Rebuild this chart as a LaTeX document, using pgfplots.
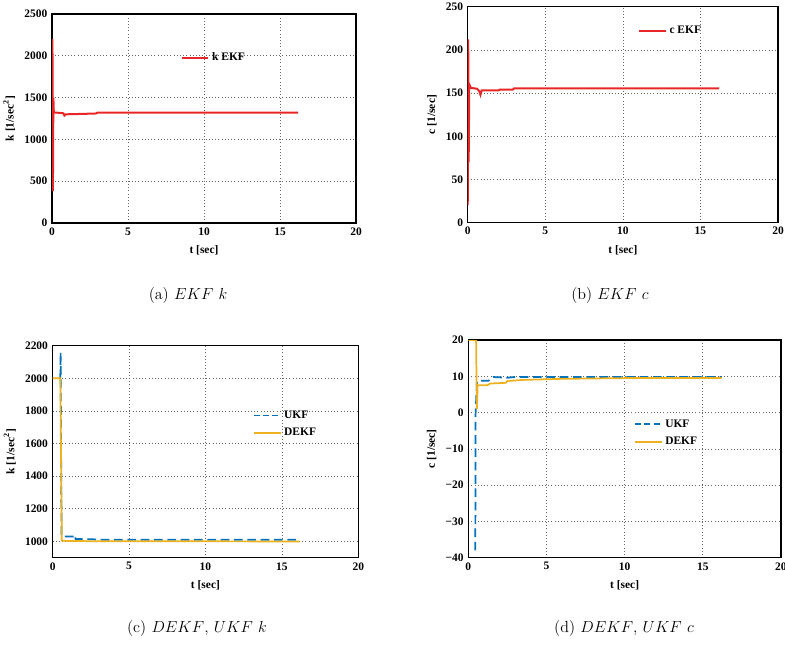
\documentclass[border=0pt]{standalone}
\usepackage{pgfplots}
\pgfplotsset{compat=1.18}
\usepackage{fontspec}
\newfontfamily\tkfont{Liberation Serif}
\definecolor{ekfred}{RGB}{232,38,38}
\definecolor{ukfblue}{RGB}{0,114,189}
\definecolor{dekforange}{RGB}{237,177,32}
\pgfplotsset{myax/.style={
  scale only axis, anchor=south west,
  xmin=0, xmax=20, xtick={0,5,10,15,20},
  grid=major, major grid style={dotted, black!60, line width=0.5pt},
  axis line style={line width=0.9pt},
  tick label style={font=\tkfont\bfseries\fontsize{8.6}{10}\selectfont},
  label style={font=\tkfont\bfseries\fontsize{8.6}{10}\selectfont},
  /pgf/number format/assume math mode=true,
  /pgf/number format/1000 sep={},
  scaled ticks=false,
  major tick length=0pt,
  legend style={draw=none, fill=none, font=\tkfont\bfseries\fontsize{8.6}{10}\selectfont, row sep=2pt},
  legend cell align=left,
  legend image code/.code={\draw[##1] (0cm,0cm) -- (0.7cm,0cm);},
  xlabel={t [sec]},
  xlabel style={yshift=-1pt},
}}
\begin{document}
\begin{tikzpicture}
\path[use as bounding box] (0,0) rectangle (588.75pt,484.5pt);
% (a)
\begin{axis}[myax, at={(39pt,317.25pt)}, width=228pt, height=156.75pt,
  ymin=0, ymax=2500, ytick={0,500,1000,1500,2000,2500},
  ylabel={k [1/sec\textsuperscript{2}]},
  legend style={at={(0.41,0.79)}, anchor=west}]
\addplot[ekfred, line width=1.5pt] coordinates {
(0,2000) (0.03,2200) (0.06,380) (0.09,1500) (0.12,1320) (0.5,1318) (0.75,1312) (0.82,1285) (0.9,1300) (2.0,1305) (2.9,1310) (3.0,1320) (16.2,1320)};
\addlegendentry{k EKF}
\end{axis}
% (b)
\begin{axis}[myax, at={(350.8pt,317.5pt)}, width=232.7pt, height=162pt,
  ymin=0, ymax=250, ytick={0,50,100,150,200,250},
  ylabel={c [1/sec]},
  legend style={at={(0.536,0.889)}, anchor=west}]
\addplot[ekfred, line width=1.5pt] coordinates {
(0,20) (0.03,212) (0.06,70) (0.1,160) (0.2,156) (0.6,155) (0.75,152) (0.82,148) (0.9,153) (2.0,153) (2.05,154) (2.9,154) (3.0,155.5) (16.2,155.5)};
\addlegendentry{c EKF}
\end{axis}
% (c)
\begin{axis}[myax, at={(39.5pt,66.2pt)}, width=229.2pt, height=159pt,
  ymin=900, ymax=2200, ytick={1000,1200,1400,1600,1800,2000,2200},
  ylabel={k [1/sec\textsuperscript{2}]},
  legend style={at={(0.642,0.72)}, anchor=north west}]
\addplot[ukfblue, line width=1.3pt, dash pattern=on 6.5pt off 3.5pt,
  legend image post style={line width=1.4pt, dash pattern=on 4.5pt off 2.4pt}] coordinates {
(0.5,2000) (0.52,2160) (0.58,1040) (0.62,1030) (1.4,1030) (1.42,1040) (1.5,1015) (2.0,1015) (3.5,1010) (16.2,1010)};
\addlegendentry{UKF}
\addplot[dekforange, line width=1.3pt] coordinates {
(0,2000) (0.5,2000) (0.6,1005) (1.0,1003) (3.0,1001) (16.2,1000)};
\addlegendentry{DEKF}
\end{axis}
% (d)
\begin{axis}[myax, at={(351.2pt,66.2pt)}, width=234.5pt, height=163.3pt,
  ymin=-40, ymax=20, ytick={-40,-30,-20,-10,0,10,20},
  yticklabels={−40,−30,−20,−10,0,10,20},
  ylabel={c [1/sec]},
  legend style={at={(0.517,0.66)}, anchor=north west}]
\addplot[ukfblue, line width=1.3pt, dash pattern=on 6.5pt off 3.5pt,
  legend image post style={line width=1.4pt, dash pattern=on 4.5pt off 2.4pt}] coordinates {
(0.45,-38) (0.47,0) (0.55,8) (0.6,8.8) (1.3,8.8) (1.6,9.8) (2.5,9.6) (3.0,9.8) (16.2,9.8)};
\addlegendentry{UKF}
\addplot[dekforange, line width=1.3pt] coordinates {
(0,20) (0.5,20) (0.55,1) (0.6,7.5) (1.2,7.5) (1.4,8.0) (2.4,8.2) (2.5,8.7) (3.5,9.0) (6,9.3) (10,9.5) (16.2,9.5)};
\addlegendentry{DEKF}
\end{axis}
% captions
\begin{scope}[every node/.style={font=\fontsize{12}{14}\selectfont}]
\node at (141pt,262.5pt) {(a) $EKF$ $k$};
\node at (457.5pt,262.5pt) {(b) $EKF$ $c$};
\node at (147.75pt,12.75pt) {(c) $DEKF$, $UKF$ $k$};
\node at (468pt,12.75pt) {(d) $DEKF$, $UKF$ $c$};
\end{scope}
\end{tikzpicture}
\end{document}
